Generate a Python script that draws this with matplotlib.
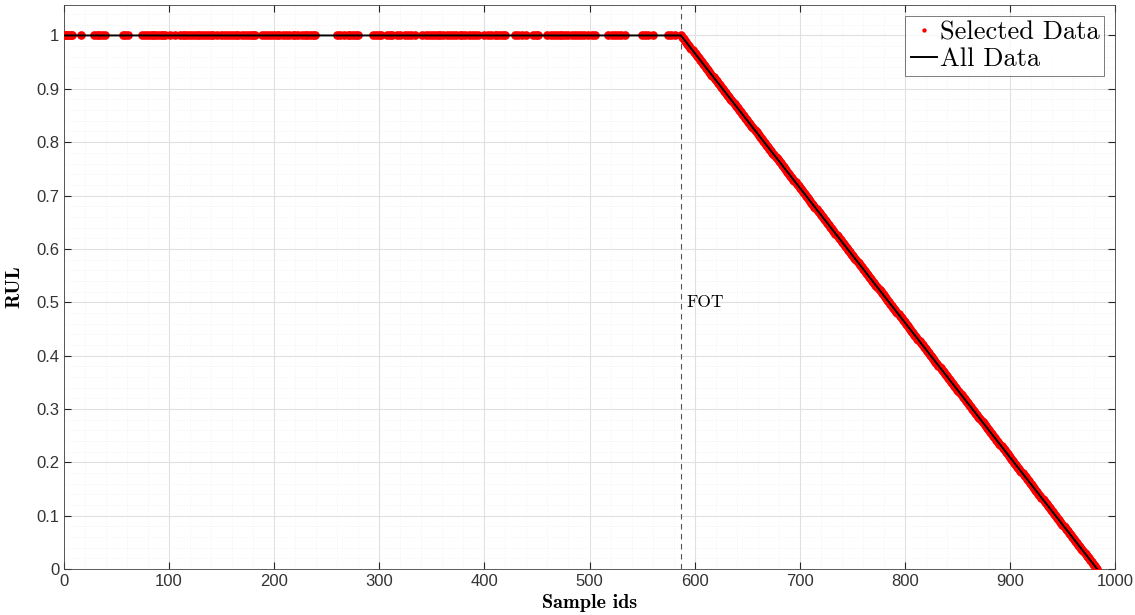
import matplotlib
matplotlib.use("Agg")
import matplotlib.pyplot as plt
import numpy as np
from matplotlib.ticker import MultipleLocator

# run length and failure onset time (sample ids)
n_samples = 983
fot_id = 587

# samples kept from the healthy (flat) stage
selected_flat_ids = [
    1, 2, 3, 5, 7, 8, 16, 29, 31, 33, 36, 39, 56, 58, 61,
    74, 77, 80, 83, 85, 87, 89, 92, 94, 96, 101, 106, 110, 113, 115,
    118, 121, 124, 127, 128, 131, 134, 137, 140, 142, 146, 149, 152, 155,
    158, 161, 164, 166, 169, 172, 175, 178, 180, 182,
    188, 191, 194, 197, 200, 203, 205, 208, 211, 214, 218,
    220, 223, 226, 229, 231, 234, 237, 239,
    260, 263, 266, 270, 272, 275, 278, 280, 294, 297, 300, 302,
    307, 310, 312, 317, 320, 324, 327, 330, 334,
    341, 344, 347, 350, 353, 356, 358, 361, 364, 367, 370, 373, 377,
    379, 382, 385, 388, 391, 394, 400, 403, 406, 410, 412, 415, 418, 420,
    429, 432, 436, 440, 446, 449, 451, 460, 463, 466, 469, 472,
    474, 477, 480, 483, 486, 489, 492, 495, 499, 502, 505,
    518, 521, 524, 527, 530, 534, 550, 553, 556, 560, 575, 578, 581,
]

ids = np.arange(1, n_samples + 1)
rul = np.minimum(1.0, (n_samples - ids) / (n_samples - fot_id))

sel_ids = np.concatenate([selected_flat_ids, np.arange(fot_id, n_samples + 1)])
sel_rul = rul[sel_ids - 1]

fig = plt.figure(figsize=(11.35, 6.15), dpi=100)
ax = fig.add_axes([0.0564, 0.0748, 0.926, 0.917])

ax.plot(sel_ids, sel_rul, ".", color="red", markersize=12.5, markeredgewidth=0,
        label="Selected Data", zorder=3)
ax.plot(ids, rul, "-", color="black", linewidth=1.4, label="All Data", zorder=4)
ax.axvline(fot_id, color="#555555", linestyle=(0, (5, 4)), linewidth=0.8, zorder=2)
ax.text(fot_id + 5, 0.5, "FOT", fontfamily="cmr10", fontsize=12.5,
        ha="left", va="center", color="black")

ax.set_xlim(0, 1000)
ax.set_ylim(0, 1.057)
ax.xaxis.set_major_locator(MultipleLocator(100))
ax.xaxis.set_minor_locator(MultipleLocator(20))
ax.yaxis.set_minor_locator(MultipleLocator(0.02))
ax.set_yticks(np.arange(0, 1.01, 0.1))
ax.set_yticklabels(["0"] + [f"{v:.1f}" for v in np.arange(0.1, 0.95, 0.1)] + ["1"])

ax.grid(which="major", color="#e0e0e0", linewidth=0.8)
ax.grid(which="minor", color="#eeeeee", linewidth=0.6, linestyle=(0, (1, 2)))
ax.set_axisbelow(True)

ax.tick_params(which="both", direction="in", top=True, right=True,
               colors="#262626", labelsize=12, labelcolor="#333333")
ax.tick_params(which="major", length=5)
ax.tick_params(which="minor", length=0)
for lab in ax.get_xticklabels() + ax.get_yticklabels():
    lab.set_fontfamily("Liberation Sans")
for sp in ax.spines.values():
    sp.set_color("#404040")
    sp.set_linewidth(0.6)

ax.set_xlabel("Sample ids", fontfamily="cmb10", fontsize=14.5, labelpad=4)
ax.set_ylabel("RUL", fontfamily="cmb10", fontsize=14.5, labelpad=9)

leg = ax.legend(loc="upper right", prop={"family": "cmr10", "size": 19},
                frameon=True, fancybox=False, edgecolor="#404040",
                handlelength=1.0, handletextpad=0.1, borderpad=0.2,
                labelspacing=0.1, borderaxespad=0.4, markerscale=0.5)
leg.get_frame().set_linewidth(0.6)

fig.savefig("out.png", dpi=100, facecolor="white")
